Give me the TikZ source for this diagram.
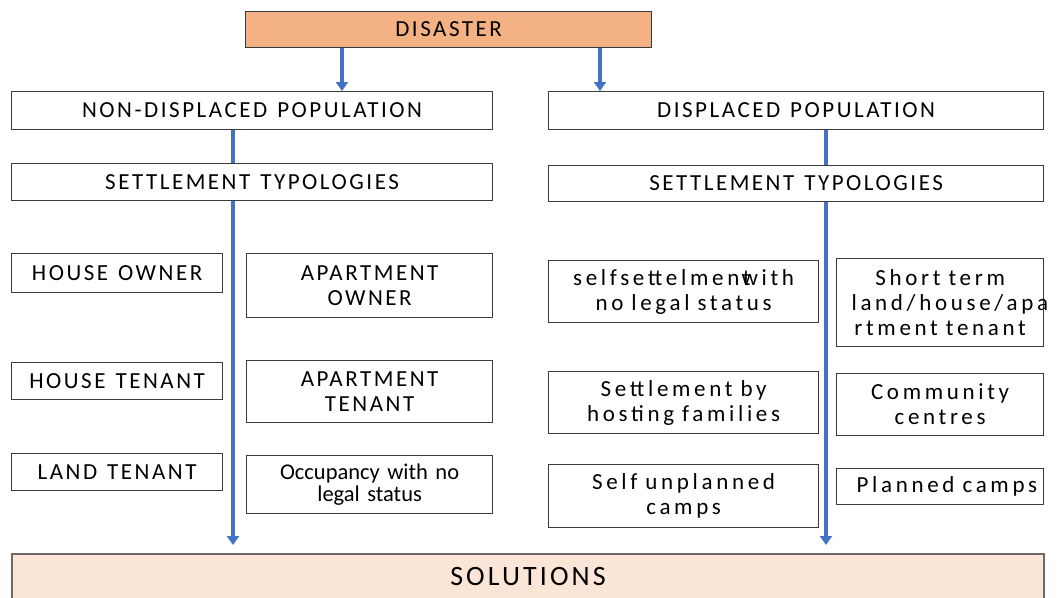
\documentclass[tikz,border=0pt]{standalone}
\usepackage{fontspec}
\setmainfont{Carlito}
\newfontfamily\capsfont[LetterSpace=11]{Carlito}
\newfontfamily\lowfont[LetterSpace=16]{Carlito}
\newfontfamily\plainfont{Carlito}
\newcommand\ws{\hskip 10pt\relax}
\newcommand\wl{\hskip 8pt\relax}
\usetikzlibrary{arrows.meta}
\definecolor{disfill}{HTML}{F4B183}
\definecolor{solfill}{HTML}{FBE5D6}
\definecolor{flowblue}{HTML}{4472C4}
\definecolor{edgecol}{HTML}{3A3A3A}
\definecolor{soledge}{HTML}{6A6A6A}
\begin{document}
\begin{tikzpicture}[x=1pt,y=-1pt,
  box/.style={draw=edgecol, line width=1.2pt, fill=white, anchor=north west,
    inner xsep=0pt, inner ysep=0pt, align=center,
    font=\capsfont\fontsize{23}{25}\selectfont},
  lowbox/.style={box, font=\lowfont\fontsize{23}{25}\selectfont},
  plainbox/.style={box, font=\plainfont\fontsize{22.5}{22}\selectfont},
  flow/.style={draw=flowblue, line width=3.4pt, -{Triangle[width=12pt,length=9pt]}}]
\clip (0,0) rectangle (1062,597);
\fill[white] (0,0) rectangle (1062,597);
\coordinate (ax1) at (342,0);
\coordinate (ax2) at (600,0);
\coordinate (lx) at (233,0);
\coordinate (rx) at (826,0);
% top
\node[box, fill=disfill, minimum width=406pt, minimum height=36pt, text width=380pt] (dis) at (245,11) {DISASTER};
\node[box, minimum width=481pt, minimum height=38pt, text width=460pt] (npop) at (11,91) {NON-DISPLACED\ws POPULATION};
\node[box, minimum width=495pt, minimum height=38pt, text width=470pt] (dpop) at (548,91) {DISPLACED\ws POPULATION};
\node[box, fill=solfill, draw=soledge, line width=2pt, minimum width=1032pt, minimum height=46pt, text width=1000pt,
  font=\capsfont\fontsize{28}{30}\selectfont] (sol) at (11,553) {SOLUTIONS};
% long flow lines (behind boxes)
\draw[flow, shorten >=8pt] (npop.south -| lx) -- (sol.north -| lx);
\draw[flow, shorten >=8pt] (dpop.south -| rx) -- (sol.north -| rx);
\draw[flow] (dis.south -| ax1) -- (npop.north -| ax1);
\draw[flow] (dis.south -| ax2) -- (dpop.north -| ax2);
% settlement typologies
\node[box, minimum width=481pt, minimum height=37pt, text width=460pt] (nst) at (11,163) {SETTLEMENT\ws TYPOLOGIES};
\node[box, minimum width=495pt, minimum height=36pt, text width=470pt] (dst) at (548,165) {SETTLEMENT\ws TYPOLOGIES};
% non-displaced categories
\node[box, minimum width=211pt, minimum height=39pt, text width=200pt] (hown) at (11,253) {HOUSE\ws OWNER};
\node[box, minimum width=246pt, minimum height=64pt, text width=230pt] (aown) at (246,253) {APARTMENT\\OWNER};
\node[box, minimum width=211pt, minimum height=37pt, text width=200pt] (hten) at (11,362) {HOUSE\ws TENANT};
\node[box, minimum width=246pt, minimum height=62pt, text width=230pt] (aten) at (246,360) {APARTMENT\\TENANT};
\node[box, minimum width=211pt, minimum height=37pt, text width=200pt] (lten) at (11,453) {LAND\ws TENANT};
\node[plainbox, minimum width=246pt, minimum height=58pt, text width=230pt] (occ) at (246,455) {Occupancy with no\\legal status};
% displaced categories
\node[lowbox, minimum width=270pt, minimum height=62pt, text width=250pt] (sset) at (548,260) {selfsettelment\kern-9pt with\\no\wl legal\wl status};
\node[lowbox, minimum width=207pt, minimum height=88pt, text width=177pt] (short) at (836,258) {Short\wl term\\land/house/apa\\rtment\wl tenant};
\node[lowbox, minimum width=270pt, minimum height=62pt, text width=250pt] (host) at (548,371) {Settlement\wl by\\hosting\wl families};
\node[lowbox, minimum width=207pt, minimum height=62pt, text width=179pt] (comm) at (836,373) {Community\\centres};
\node[lowbox, minimum width=270pt, minimum height=63pt, text width=250pt] (unpl) at (548,464) {Self\wl unplanned\\camps};
\node[lowbox, minimum width=207pt, minimum height=36pt, text width=167pt] (plan) at (836,468) {\mbox{Planned\wl camps}};
\end{tikzpicture}
\end{document}
